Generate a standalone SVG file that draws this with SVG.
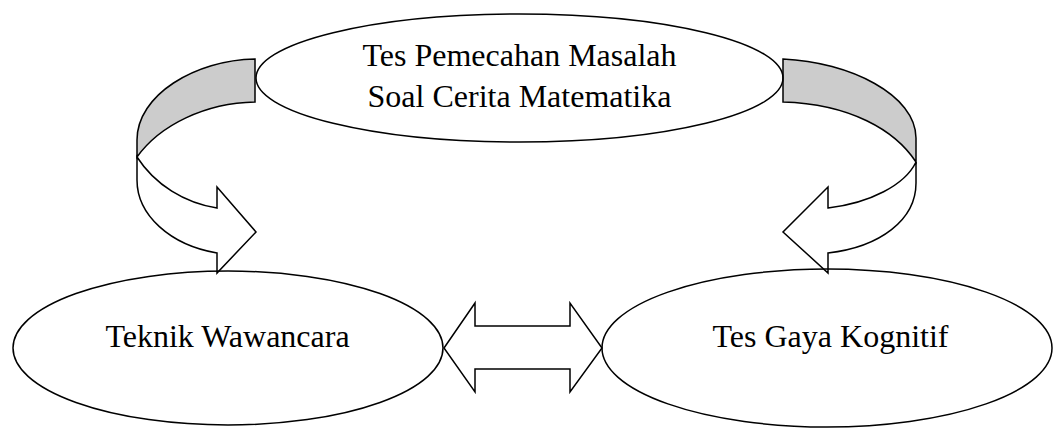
<svg xmlns="http://www.w3.org/2000/svg" width="1053" height="430" viewBox="0 0 1053 430">
  <style>
    .shape { stroke: #000; stroke-width: 1.5; stroke-linejoin: miter; }
    .node { fill: none; }
    .band { fill: #cccccc; }
    .face { fill: #ffffff; }
    .label { font-family: "Liberation Serif", "Times New Roman", serif; font-size: 32px; fill: #000; text-anchor: middle; }
  </style>
  <rect width="1053" height="430" fill="#ffffff"/>

  <g id="connectors">
    <!-- curved arrow: top node to left node -->
    <g id="arrow-left">
      <path class="shape band" d="M255,59 C195,60 137,95 137,140 L137,157 C160,125 205,103 255,102 Z"/>
      <path class="shape face" d="M137,157 C155,185 185,203 217,208 L217,187 L256,232 L217,273 L217,253 C170,245 137,215 137,180 Z"/>
    </g>
    <!-- curved arrow: top node to right node -->
    <g id="arrow-right">
      <path class="shape band" d="M783,59 C850,62 916,95 916,138 L916,162 C895,130 850,104 783,102 Z"/>
      <path class="shape face" d="M916,162 C905,185 870,203 828,208 L828,187 L783,232 L828,273 L828,253 C880,247 916,220 916,183 Z"/>
    </g>
    <!-- double-headed arrow between bottom nodes -->
    <path id="arrow-both" class="shape face" d="M444,348 L475,303 L475,326 L570,326 L570,303 L602,348 L570,392 L570,369 L475,369 L475,392 Z"/>
  </g>

  <g id="node-tes-pemecahan">
    <ellipse class="shape node" cx="519.5" cy="78" rx="263.5" ry="64"/>
    <text class="label" x="519.5" y="66">Tes Pemecahan Masalah</text>
    <text class="label" x="519.5" y="107">Soal Cerita Matematika</text>
  </g>

  <g id="node-wawancara">
    <ellipse class="shape node" cx="228" cy="348" rx="215" ry="77"/>
    <text class="label" x="227.5" y="347">Teknik Wawancara</text>
  </g>

  <g id="node-gaya-kognitif">
    <ellipse class="shape node" cx="827" cy="348" rx="225" ry="79"/>
    <text class="label" x="830.5" y="347">Tes Gaya Kognitif</text>
  </g>
</svg>
